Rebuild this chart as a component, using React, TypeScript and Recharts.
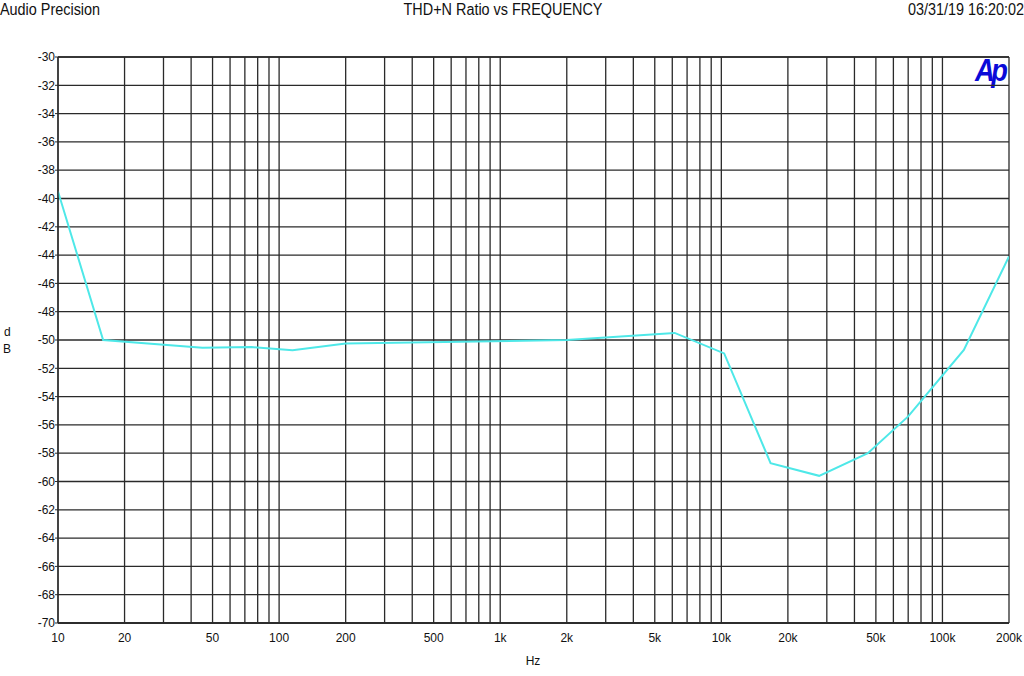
import React from "react";
import { LineChart, Line, XAxis, YAxis, CartesianGrid, ReferenceLine } from "recharts";

const freqs = [10, 16, 45, 75, 115, 200, 2000, 6150, 10300, 16700, 27700, 46000, 70000, 125000, 200000];
const thdn = [-39.5, -50.0, -50.55, -50.5, -50.72, -50.25, -50.0, -49.5, -50.95, -58.7, -59.6, -58.0, -55.4, -50.7, -44.1];

const xTicks = [10, 20, 50, 100, 200, 500, 1000, 2000, 5000, 10000, 20000, 50000, 100000, 200000];
const xGrid = [
  10, 20, 30, 40, 50, 60, 70, 80, 90,
  100, 200, 300, 400, 500, 600, 700, 800, 900,
  1000, 2000, 3000, 4000, 5000, 6000, 7000, 8000, 9000,
  10000, 20000, 30000, 40000, 50000, 60000, 70000, 80000, 90000,
  100000, 200000,
];
const yTicks = [-30, -32, -34, -36, -38, -40, -42, -44, -46, -48, -50, -52, -54, -56, -58, -60, -62, -64, -66, -68, -70];
const yMinorTicks = Array.from({ length: 101 }, (_, i) => -30 - i * 0.4);

const data = freqs.map((f, i) => ({ f, v: thdn[i] }));

const FONT = "'Liberation Sans', Arial, sans-serif";
const GRID = "#2a2a2a";

const fmtX = (v: number) => (v >= 1000 ? `${v / 1000}k` : `${v}`);

const head: React.CSSProperties = {
  position: "absolute",
  top: 0,
  fontSize: 16,
  lineHeight: "20px",
  color: "#111",
  whiteSpace: "nowrap",
};

export default function App() {
  return (
    <div style={{ position: "absolute", left: 0, top: 0, width: 1024, height: 676, background: "#fff", fontFamily: FONT, overflow: "hidden" }}>
      <div style={{ ...head, left: 0, transform: "scaleX(0.9)", transformOrigin: "left center" }}>Audio Precision</div>
      <div style={{ ...head, left: 0, width: 1006, textAlign: "center", transform: "scaleX(0.9)", transformOrigin: "503px 10px" }}>THD+N Ratio vs FREQUENCY</div>
      <div style={{ ...head, right: 0, transform: "scaleX(0.9)", transformOrigin: "right center" }}>03/31/19 16:20:02</div>
      <div style={{ position: "absolute", left: 4, top: 324, fontSize: 12, lineHeight: "16px", color: "#111" }}>d</div>
      <div style={{ position: "absolute", left: 3, top: 341, fontSize: 12, lineHeight: "16px", color: "#111" }}>B</div>
      <div style={{ position: "absolute", left: 0, width: 1066, top: 653, textAlign: "center", fontSize: 12, lineHeight: "16px", color: "#111" }}>Hz</div>
      <div style={{ position: "absolute", left: 975, top: 52, fontSize: 32, lineHeight: "36px", fontWeight: 900, fontStyle: "italic", color: "#0a0ad8", letterSpacing: -4, fontFamily: "'Liberation Sans', Arial, sans-serif", transform: "scaleX(0.85)", transformOrigin: "left center" }}>Ap</div>
      <LineChart width={1024} height={676} data={data} margin={{ top: 57, right: 15, bottom: 0, left: 0 }}>
        <CartesianGrid vertical={false} stroke={GRID} strokeWidth={1.3} />
        {xGrid.map((g) => (
          <ReferenceLine key={g} x={g} stroke={GRID} strokeWidth={1.3} ifOverflow="extendDomain" />
        ))}
        <XAxis
          dataKey="f"
          type="number"
          scale="log"
          domain={[10, 200000]}
          ticks={xTicks}
          tickFormatter={fmtX}
          height={53}
          axisLine={{ stroke: GRID, strokeWidth: 1.3 }}
          tickLine={false}
          tick={{ fill: "#111", fontSize: 12, fontFamily: FONT, dy: 2 }}
          allowDataOverflow
        />
        <YAxis
          type="number"
          domain={[-70, -30]}
          ticks={yTicks}
          width={58}
          interval={0}
          axisLine={{ stroke: GRID, strokeWidth: 1.3 }}
          tickLine={{ stroke: GRID }}
          tickSize={3}
          tick={{ fill: "#111", fontSize: 12, fontFamily: FONT, dx: 2 }}
          allowDataOverflow
        />
        <YAxis
          yAxisId="minor"
          type="number"
          domain={[-70, -30]}
          ticks={yMinorTicks}
          interval={0}
          mirror
          width={0}
          axisLine={false}
          tick={false}
          tickLine={{ stroke: GRID, strokeWidth: 1 }}
          tickSize={5}
          allowDataOverflow
        />
        <ReferenceLine y={-30} stroke={GRID} strokeWidth={1.3} />
        <ReferenceLine y={-70} stroke={GRID} strokeWidth={1.3} />
        <Line
          type="linear"
          dataKey="v"
          stroke="#4ee8e8"
          strokeWidth={2}
          dot={false}
          isAnimationActive={false}
        />
      </LineChart>
    </div>
  );
}
